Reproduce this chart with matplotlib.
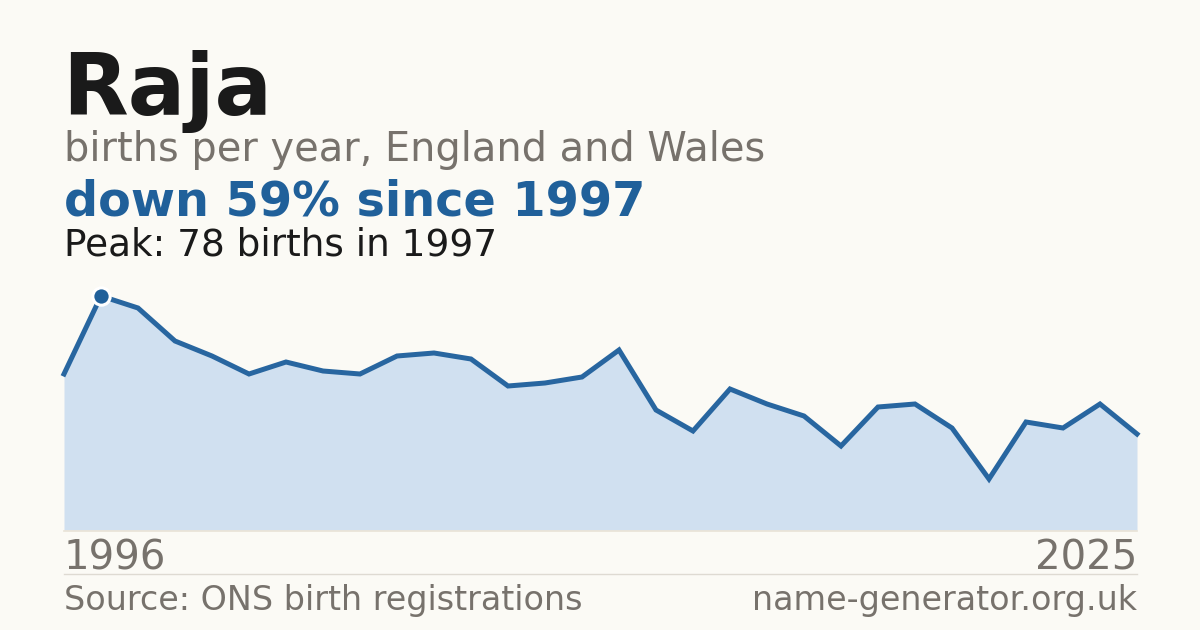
import matplotlib
matplotlib.use("Agg")
import matplotlib.pyplot as plt

years = list(range(1996, 2026))
births = [52, 78, 74, 63, 58, 52, 56, 53, 52, 58, 59, 57, 48, 49, 51, 60,
          40, 33, 47, 42, 38, 28, 41, 42, 34, 17, 36, 34, 42, 32]

title = "Raja"
subtitle = "births per year, England and Wales"
headline = "down 59% since 1997"
peak_text = "Peak: 78 births in 1997"
source = "Source: ONS birth registrations"
site = "name-generator.org.uk"

W, H = 1200, 630
BG = "#fbfaf5"
BLUE = "#20609a"
LINE = "#2866a0"
FILL = "#d0e0f0"
GREY = "#77726c"
DARK = "#1a1a1a"

plt.rcParams['font.family'] = ['DejaVu Sans']
fig = plt.figure(figsize=(W / 100, H / 100), dpi=100, facecolor=BG)

def fx(px):
    return px / W

def fy(py):
    return 1 - py / H

ax = fig.add_axes([fx(64), fy(530), fx(1137 - 64), (530 - 296) / H])
ax.set_facecolor("none")
ax.fill_between(years, births, 0, color=FILL, linewidth=0, zorder=1)
ax.plot(years, births, color=LINE, linewidth=3.6, solid_joinstyle="miter",
        zorder=2, clip_on=False)
pk = births.index(max(births))
ax.plot([years[pk]], [births[pk]], marker="o", markersize=12.5,
        markerfacecolor=BLUE, markeredgecolor="white", markeredgewidth=2.2,
        zorder=3, clip_on=False)
ax.set_xlim(years[0], years[-1])
ax.set_ylim(0, max(births))
ax.axis("off")

# baseline and separator
fig.add_artist(plt.Line2D([fx(64), fx(1137)], [fy(530.5), fy(530.5)],
                          color="#e8e2d6", linewidth=1.2))
fig.add_artist(plt.Line2D([fx(64), fx(1137)], [fy(574), fy(574)],
                          color="#dedad2", linewidth=1))

fig.text(fx(62), fy(115), title, fontsize=61.5, fontweight="bold", color=DARK,
         va="baseline", ha="left")
fig.text(fx(64), fy(161), subtitle, fontsize=28.7, color=GREY,
         va="baseline", ha="left")
fig.text(fx(64), fy(215), headline, fontsize=34.4, fontweight="bold", color=BLUE,
         va="baseline", ha="left")
fig.text(fx(64), fy(255), peak_text, fontsize=26.9, color=DARK,
         va="baseline", ha="left")
fig.text(fx(64), fy(570), str(years[0]), fontsize=29, color=GREY,
         va="baseline", ha="left")
fig.text(fx(1137), fy(570), str(years[-1]), fontsize=29, color=GREY,
         va="baseline", ha="right")
fig.text(fx(64), fy(610), source, fontsize=24, color=GREY,
         va="baseline", ha="left")
fig.text(fx(1137), fy(610), site, fontsize=24, color=GREY,
         va="baseline", ha="right")

fig.savefig("out.png", dpi=100, facecolor=BG)
